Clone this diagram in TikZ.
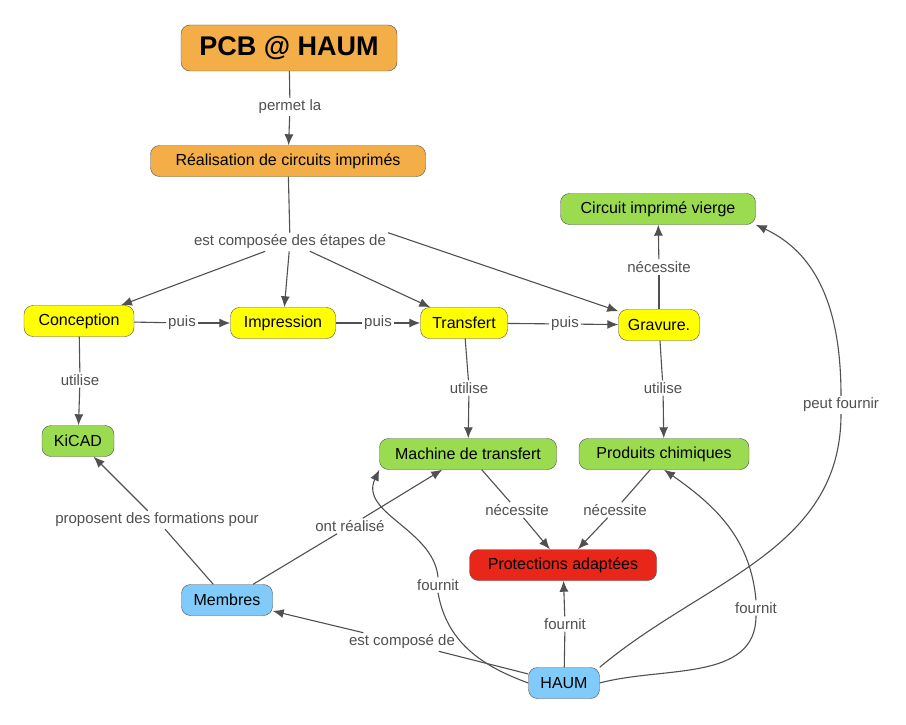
\documentclass[tikz,border=0pt]{standalone}
\usepackage{fontspec}
\setmainfont{Liberation Sans}
\usetikzlibrary{arrows.meta}
\definecolor{cmorange}{HTML}{F4AE48}
\definecolor{cmyellow}{HTML}{FFFF00}
\definecolor{cmgreen}{HTML}{9BDB50}
\definecolor{cmblue}{HTML}{80CBFA}
\definecolor{cmred}{HTML}{E8261A}
\definecolor{cmline}{HTML}{505050}
\tikzset{
  concept/.style={draw=cmline,rounded corners=9pt,minimum height=31pt,inner xsep=8pt,font=\fontsize{16}{19}\selectfont},
  lbl/.style={fill=white,inner sep=2pt,text=cmline,font=\fontsize{15}{18}\selectfont},
  link/.style={draw=cmline,line width=1.1pt},
  arr/.style={link,-{Latex[length=11pt,width=9pt]}}
}
\begin{document}
\begin{tikzpicture}[x=1pt,y=-1pt]
    \useasboundingbox (0,0) rectangle (906,725);
    % Concepts
    \node[concept,fill=cmorange,minimum width=216pt,minimum height=46pt,font=\fontsize{27}{32}\selectfont\bfseries] (pcb) at (289,48) {PCB @ HAUM};
    \node[concept,fill=cmorange,minimum width=275pt] (real) at (288,161) {Réalisation de circuits imprimés};
    \node[concept,fill=cmgreen,minimum width=195pt] (vierge) at (658,209) {Circuit imprimé vierge};
    \node[concept,fill=cmyellow,minimum width=110pt] (conc) at (79,321) {Conception};
    \node[concept,fill=cmyellow,minimum width=105pt] (impr) at (283,323) {Impression};
    \node[concept,fill=cmyellow,minimum width=87pt] (trans) at (464,323) {Transfert};
    \node[concept,fill=cmyellow,minimum width=81pt] (grav) at (659,325) {Gravure.};
    \node[concept,fill=cmgreen,minimum width=72pt] (kicad) at (78,441) {KiCAD};
    \node[concept,fill=cmgreen,minimum width=177pt] (mach) at (468,454) {Machine de transfert};
    \node[concept,fill=cmgreen,minimum width=170pt] (chim) at (664,454) {Produits chimiques};
    \node[concept,fill=cmred,minimum width=187pt] (prot) at (563,565) {Protections adaptées};
    \node[concept,fill=cmblue,minimum width=91pt] (memb) at (227,600) {Membres};
    \node[concept,fill=cmblue,minimum width=71pt] (haum) at (564,683) {HAUM};
    % Link labels
    \node[lbl] (l1) at (290,107) {permet la};
    \node[lbl] (l2) at (290,242) {est composée des étapes de};
    \node[lbl] (p1) at (182,323) {puis};
    \node[lbl] (p2) at (378,323) {puis};
    \node[lbl] (p3) at (565,324) {puis};
    \node[lbl] (n1) at (659,267) {nécessite};
    \node[lbl] (u1) at (80,380) {utilise};
    \node[lbl] (u2) at (469,388) {utilise};
    \node[lbl] (u3) at (663,388) {utilise};
    \node[lbl] (form) at (157,520) {proposent des formations pour};
    \node[lbl] (orea) at (350,526) {ont réalisé};
    \node[lbl] (n2) at (517,510) {nécessite};
    \node[lbl] (n3) at (615,510) {nécessite};
    \node[lbl] (f1) at (438,585) {fournit};
    \node[lbl] (f2) at (565,624) {fournit};
    \node[lbl] (f3) at (756,608) {fournit};
    \node[lbl] (peut) at (841,405) {peut fournir};
    \node[lbl] (comp) at (402,642) {est composé de};
    % Links
    \draw[link] (pcb) -- (l1);
    \draw[arr] (l1) -- (real);
    \draw[link] (real) -- (l2);
    \draw[arr] (l2) -- (conc);
    \draw[arr] (l2) -- (impr);
    \draw[arr] (l2) -- (trans);
    \draw[arr] (l2.north east) -- (grav);
    \draw[link] (conc) -- (p1);
    \draw[arr] (p1) -- (impr);
    \draw[link] (impr) -- (p2);
    \draw[arr] (p2) -- (trans);
    \draw[link] (trans) -- (p3);
    \draw[arr] (p3) -- (grav);
    \draw[link] (grav) -- (n1);
    \draw[arr] (n1) -- (vierge);
    \draw[link] (conc) -- (u1);
    \draw[arr] (u1) -- (kicad);
    \draw[link] (trans) -- (u2);
    \draw[arr] (u2) -- (mach);
    \draw[link] (grav) -- (u3);
    \draw[arr] (u3) -- (chim);
    \draw[link] (memb) -- (form);
    \draw[arr] (form) -- (kicad);
    \draw[link] (memb) -- (orea);
    \draw[arr] (orea) -- (mach);
    \draw[link] (mach) -- (n2);
    \draw[arr] (n2) -- (prot);
    \draw[link] (chim) -- (n3);
    \draw[arr] (n3) -- (prot);
    \draw[link] (haum) -- (f2);
    \draw[arr] (f2) -- (prot);
    \draw[link] (haum) -- (comp);
    \draw[arr] (comp) -- (memb);
    \draw[link] (haum.west) to[out=160,in=-80] (f1.south);
    \draw[arr] (f1.north) to[out=95,in=-115] (mach.south west);
    \draw[link] (haum.east) to[out=15,in=-90] (f3.south);
    \draw[arr] (f3.north) to[out=95,in=-35] (chim.south);
    \draw[link] (haum.north east) to[out=40,in=-90] (peut.south);
    \draw[arr] (peut.north) to[out=90,in=-25] (vierge.south east);
\end{tikzpicture}
\end{document}
